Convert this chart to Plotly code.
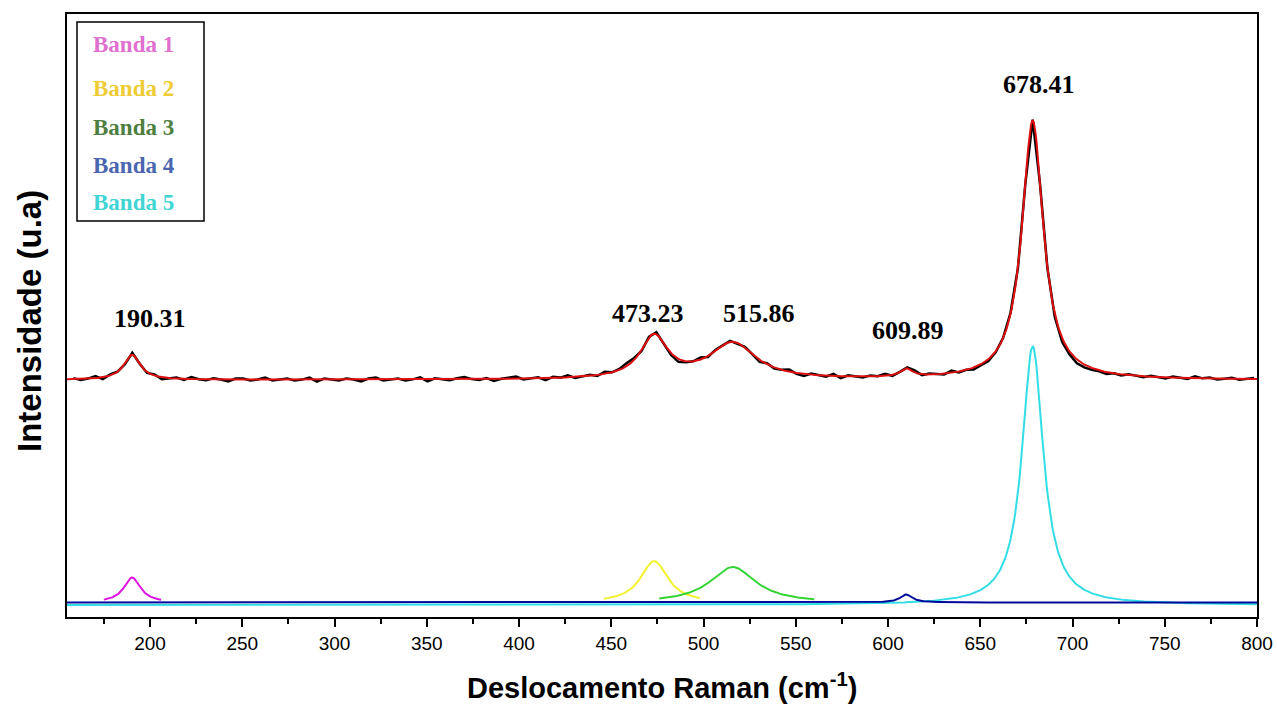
import numpy as np
import plotly.graph_objects as go

# ---------------- data (y in arbitrary units) ----------------
band_names = ["Banda 1", "Banda 2", "Banda 3", "Banda 4", "Banda 5"]
band_centers = [190.31, 473.23, 515.86, 609.89, 678.41]
band_heights = [25, 42, 36, 8, 259]          # intensity above baseline
band_fwhm = [11, 18, 30, 8, 14]
band_colors = ["#e010e0", "#f2f230", "#33d433", "#000a99", "#33dde6"]
band_label_colors = ["#e070d0", "#efcc33", "#4d8040", "#4a66b0", "#40d4d4"]
band_ranges = [(175, 206), (446, 498), (476, 560), (155, 800), (155, 800)]
band_baselines = [14.5, 14.0, 14.0, 14.5, 12.0]

spectrum_baseline = 237
peak_labels = ["190.31", "473.23", "515.86", "609.89", "678.41"]
peak_label_x = [200, 470, 530, 611, 682]
peak_label_y = [299, 304, 304, 287, 533]

# residual of the measured spectrum vs. the fit, every 4 cm-1 from 158.41
residuals = [1, -1, 0, 2, -2, 1, 0, -1, 2, 0,
             -1, 1, -2, 0, 1, -1, 2, 0, -1, 1,
             0, -2, 1, 1, -1, 0, 2, -1, 0, 1,
             -1, 0, 2, -2, 1, 0, -1, 1, 0, -2,
             1, 2, -1, 0, 1, -1, 0, 2, -2, 1,
             0, -1, 1, 2, 0, -1, 1, -2, 0, 1,
             2, -1, 0, 1, -2, 1, 0, 2, -1, 0,
             1, -1, 2, 0, 1, 3, 2, -1, 1, 2,
             0, -2, -3, -1, 0, 2, -1, 1, 0, 1,
             -1, 1, 0, -2, 1, -1, 0, 2, -1, -2,
             1, 0, -1, 2, -2, 1, 0, -1, 1, 0,
             2, -1, 0, 1, 2, -1, 1, 0, -1, 2,
             -1, 0, -2, -1, -2, -1, 0, 1, -1, 0,
             1, 0, -1, -3, -4, -3, -4, -3, -2, -1,
             -2, 0, -1, 1, 0, -1, 1, 0, -1, 1,
             0, -1, 2, 0, 1, -1, 0, 1, -1, 0,
             1]

x_ticks = [200, 250, 300, 350, 400, 450, 500, 550, 600, 650, 700, 750, 800]
x_minor_ticks = [175, 225, 275, 325, 375, 425, 475, 525, 575, 625, 675, 725, 775]


def lorentz(x, c, h, w):
    g = w / 2.0
    return h * g * g / ((x - c) ** 2 + g * g)


def fit_curve(x):
    y = np.full_like(x, spectrum_baseline, dtype=float)
    for c, h, w in zip(band_centers, band_heights, band_fwhm):
        y = y + lorentz(x, c, h, w)
    return y


x_fine = np.linspace(155, 800, 1291)
x_meas = 158.41 + 4 * np.arange(len(residuals))
y_meas = fit_curve(x_meas) + np.array(residuals)

fig = go.Figure()

# component bands (cyan first, then navy, then the rest)
order = [4, 3, 0, 1, 2]
for i in order:
    lo, hi = band_ranges[i]
    xs = x_fine[(x_fine >= lo) & (x_fine <= hi)]
    ys = band_baselines[i] + lorentz(xs, band_centers[i], band_heights[i], band_fwhm[i])
    fig.add_trace(go.Scatter(x=xs, y=ys, mode="lines",
                             line=dict(color=band_colors[i], width=2),
                             name=band_names[i], showlegend=False))

# measured spectrum and fit
fig.add_trace(go.Scatter(x=x_meas, y=y_meas, mode="lines",
                         line=dict(color="black", width=2.5), showlegend=False))
fig.add_trace(go.Scatter(x=x_fine, y=fit_curve(x_fine), mode="lines",
                         line=dict(color="#e01010", width=2), showlegend=False))

annotations = []
for t, px, py in zip(peak_labels, peak_label_x, peak_label_y):
    annotations.append(dict(x=px, y=py, xref="x", yref="y", text="<b>" + t + "</b>",
                            showarrow=False,
                            font=dict(family="Liberation Serif", size=26, color="black"),
                            xanchor="center", yanchor="middle"))

legend_y_px = [45, 88, 127, 166, 202]
for name, col, py in zip(band_names, band_label_colors, legend_y_px):
    annotations.append(dict(x=(91 - 67) / 1190, y=(617 - py) / 603, xref="paper", yref="paper",
                            text="<b>" + name + "</b>", showarrow=False,
                            font=dict(family="Liberation Serif", size=23, color=col),
                            xanchor="left", yanchor="middle"))

annotations.append(dict(x=(662 - 67) / 1190, y=(617 - 686) / 603, xref="paper", yref="paper",
                        text="<b>Deslocamento Raman (cm<sup>-1</sup>)</b>", showarrow=False,
                        font=dict(family="Liberation Sans", size=29, color="black"),
                        xanchor="center", yanchor="middle"))
annotations.append(dict(x=(29 - 67) / 1190, y=(617 - 321) / 603, xref="paper", yref="paper",
                        text="<b>Intensidade (u.a)</b>", showarrow=False, textangle=-90,
                        font=dict(family="Liberation Sans", size=33, color="black"),
                        xanchor="center", yanchor="middle"))

fig.update_layout(
    template="none",
    width=1277, height=706,
    margin=dict(l=67, r=20, t=14, b=89, autoexpand=False),
    plot_bgcolor="white", paper_bgcolor="white",
    font=dict(family="Liberation Sans", color="black"),
    annotations=annotations,
    shapes=[dict(type="rect", xref="paper", yref="paper",
                 x0=(77 - 67) / 1190, x1=(204 - 67) / 1190,
                 y0=(617 - 221) / 603, y1=(617 - 22) / 603,
                 line=dict(color="black", width=1.5))],
    xaxis=dict(range=[155, 800], tickvals=x_ticks, ticks="outside", ticklen=8, tickwidth=2,
               tickcolor="black", showline=True, linecolor="black", linewidth=2, mirror=True,
               showgrid=False, zeroline=False, automargin=False,
               minor=dict(tickvals=x_minor_ticks,
                          ticks="outside", ticklen=5, tickwidth=2, tickcolor="black",
                          showgrid=False),
               tickfont=dict(family="Liberation Sans", size=19, color="black")),
    yaxis=dict(range=[0, 603], showticklabels=False, ticks="", showline=True, linecolor="black",
               linewidth=2, mirror=True, showgrid=False, zeroline=False, automargin=False),
)

fig.write_html("out.html")
